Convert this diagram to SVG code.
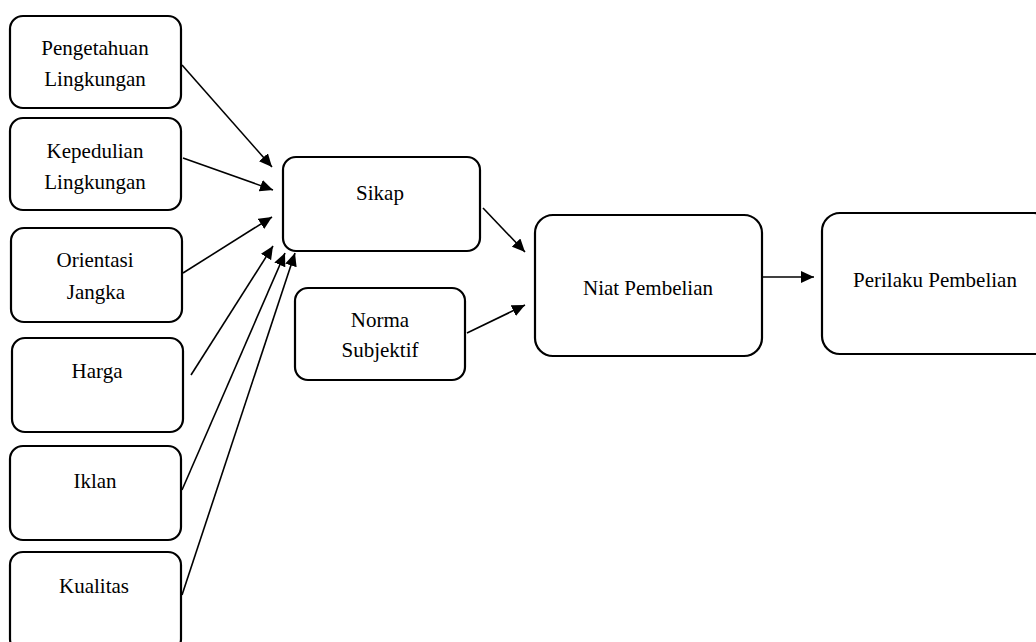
<svg xmlns="http://www.w3.org/2000/svg" width="1036" height="642" viewBox="0 0 1036 642">
<style>
.box{fill:#fff;stroke:#000;stroke-width:2.2}
.t{font-family:"Liberation Serif","Times New Roman",serif;font-size:21px;fill:#000;text-anchor:middle}
.c{stroke:#000;stroke-width:1.6;fill:none;marker-end:url(#ah)}
</style>
<defs>
<marker id="ah" markerUnits="userSpaceOnUse" markerWidth="14" markerHeight="12" refX="13" refY="6" orient="auto">
<path d="M0,0 L13,6 L0,12 z" fill="#000"/>
</marker>
</defs>
<rect width="1036" height="642" fill="#fff"/>
<g id="n-pengetahuan"><rect class="box" x="10" y="16" width="171" height="92" rx="13"/><text class="t" x="95" y="55">Pengetahuan</text><text class="t" x="95" y="86">Lingkungan</text></g>
<g id="n-kepedulian"><rect class="box" x="10" y="118" width="171" height="92" rx="13"/><text class="t" x="95" y="158">Kepedulian</text><text class="t" x="95" y="189">Lingkungan</text></g>
<g id="n-orientasi"><rect class="box" x="11" y="228" width="171" height="94" rx="13"/><text class="t" x="95" y="267">Orientasi</text><text class="t" x="96" y="299">Jangka</text></g>
<g id="n-harga"><rect class="box" x="12" y="338" width="171" height="94" rx="13"/><text class="t" x="97" y="378">Harga</text></g>
<g id="n-iklan"><rect class="box" x="10" y="446" width="171" height="94" rx="13"/><text class="t" x="95" y="488">Iklan</text></g>
<g id="n-kualitas"><rect class="box" x="10" y="552" width="171" height="100" rx="13"/><text class="t" x="94" y="593">Kualitas</text></g>
<g id="n-sikap"><rect class="box" x="283" y="157" width="197" height="94" rx="13"/><text class="t" x="380" y="200">Sikap</text></g>
<g id="n-norma"><rect class="box" x="295" y="288" width="170" height="92" rx="13"/><text class="t" x="380" y="327">Norma</text><text class="t" x="380" y="357">Subjektif</text></g>
<g id="n-niat"><rect class="box" x="535" y="215" width="227" height="141" rx="18"/><text class="t" x="648" y="295">Niat Pembelian</text></g>
<g id="n-perilaku"><rect class="box" x="822" y="213" width="230" height="141" rx="18"/><text class="t" x="935" y="287">Perilaku Pembelian</text></g>
<g id="connectors">
<line class="c" x1="182" y1="65" x2="272" y2="167"/>
<line class="c" x1="183" y1="158" x2="273" y2="190"/>
<line class="c" x1="183" y1="273" x2="272" y2="217"/>
<line class="c" x1="191" y1="375" x2="273" y2="246"/>
<line class="c" x1="182" y1="490" x2="285" y2="253"/>
<line class="c" x1="182" y1="595" x2="295" y2="253"/>
<line class="c" x1="483" y1="208" x2="525" y2="252"/>
<line class="c" x1="467" y1="333" x2="525" y2="305"/>
<line class="c" x1="762" y1="277" x2="814" y2="277"/>
</g>
</svg>
